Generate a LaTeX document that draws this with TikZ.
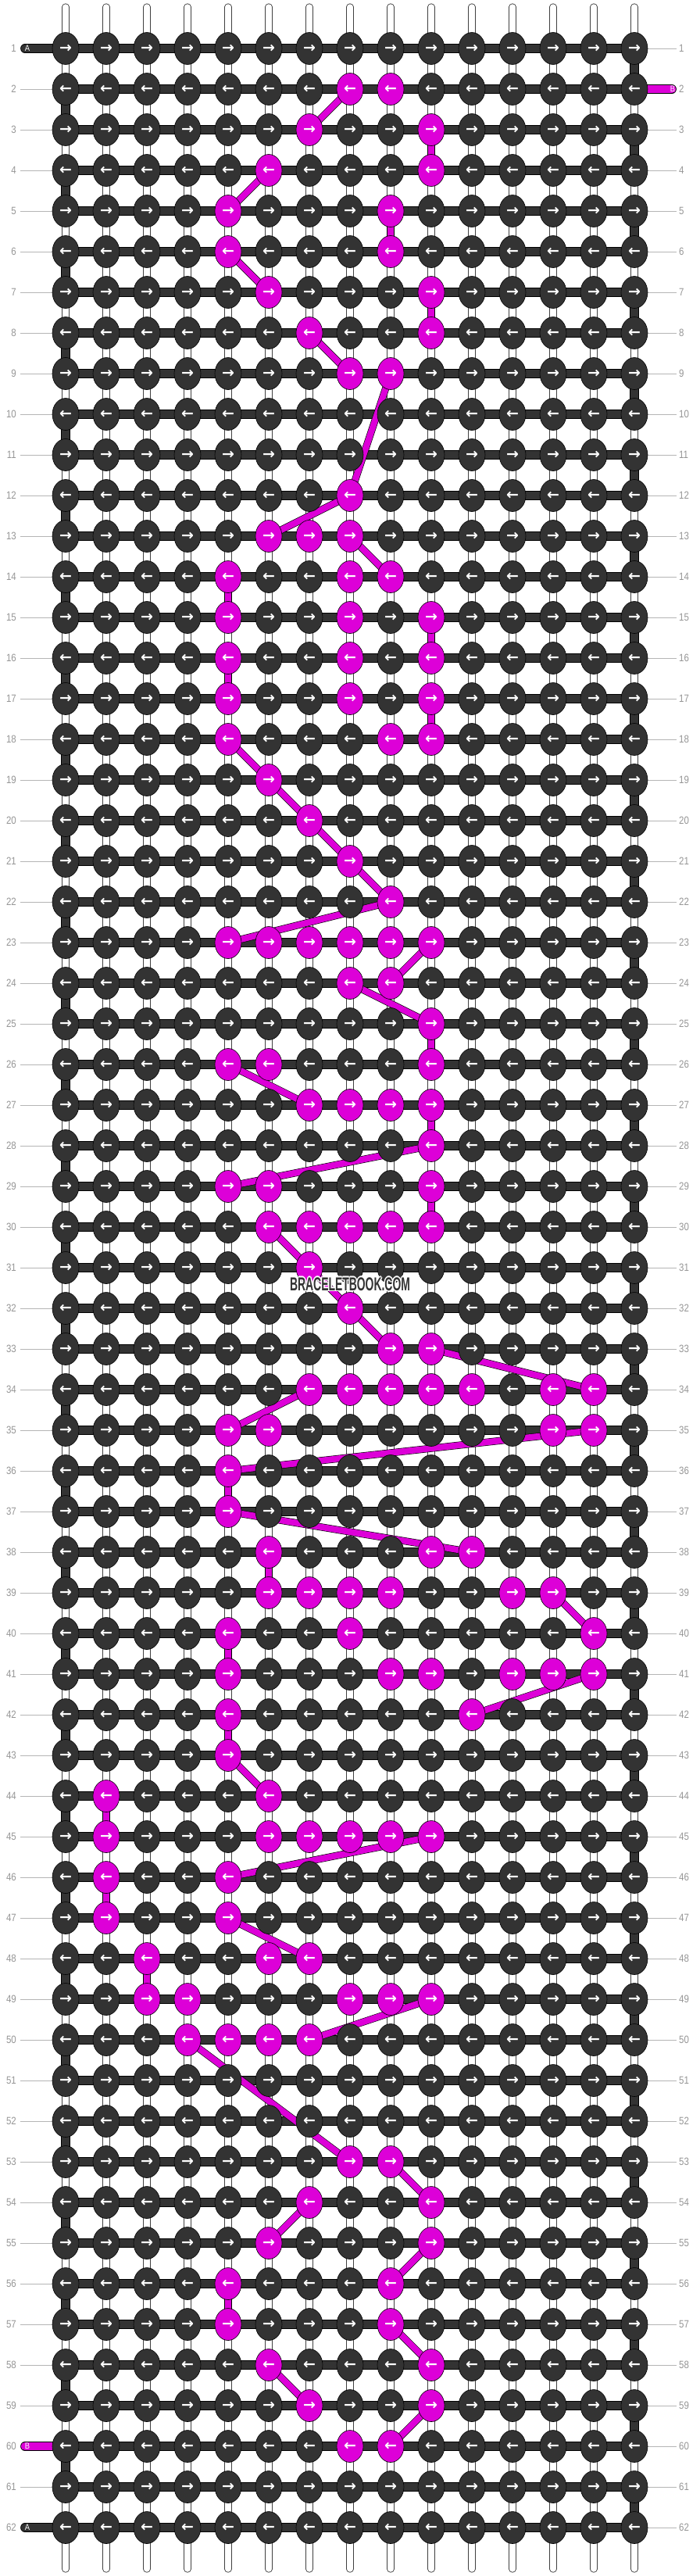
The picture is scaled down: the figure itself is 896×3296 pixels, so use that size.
\documentclass[tikz,border=0pt]{standalone}
\usepackage{fontspec}
\setmainfont{Liberation Sans}
\newfontfamily\numfont[FakeStretch=0.85]{Liberation Sans}
\newfontfamily\markfont[FakeStretch=0.58]{Liberation Sans}
\newfontfamily\arrowfont{DejaVu Sans}
\usetikzlibrary{shapes.geometric}
\definecolor{knotgray}{RGB}{51,51,51}
\definecolor{threadB}{RGB}{221,0,216}
\definecolor{labelgray}{RGB}{150,150,150}
\tikzstyle{tube}=[draw=black!75, line width=0.9pt, double=white, double distance=7.5pt, line cap=round]
\tikzstyle{bar}=[draw=black, line width=0.6pt, double=knotgray, double distance=10.5pt]
\tikzstyle{tab}=[bar, line cap=round]
\tikzstyle{thread}=[draw=black, line width=0.6pt, double=threadB, double distance=8pt]
\tikzstyle{knot}=[ellipse, draw=black, line width=0.6pt, minimum width=34pt, minimum height=41pt, inner sep=0pt, text=white, font=\arrowfont\bfseries\fontsize{19}{19}\selectfont]
\tikzstyle{rownum}=[text=labelgray, font=\numfont\fontsize{13.5}{13.5}\selectfont, inner sep=0pt]
\tikzstyle{tick}=[draw=labelgray!70, line width=1pt]
\tikzstyle{tablabel}=[text=white, font=\numfont\fontsize{11}{11}\selectfont, inner sep=0pt]
\tikzstyle{wmark}=[text=knotgray, font=\markfont\bfseries\fontsize{24}{24}\selectfont, inner sep=0pt]

\begin{document}
\begin{tikzpicture}[x=1pt,y=-1pt]
\fill[white] (0,0) rectangle (896,3296);
\useasboundingbox (0,0) rectangle (896,3296);

\foreach \r in {1,...,62}
  \foreach \c in {1,...,15}
    \coordinate (p-\r-\c) at ({32+52*\c},{10+52*\r});

\foreach \r/\cs in {2/{8,9},3/{7,10},4/{6,10},5/{5,9},6/{5,9},7/{6,10},8/{7,10},9/{8,9},
    12/{8},13/{6,7,8},14/{5,8,9},15/{5,8,10},16/{5,8,10},17/{5,8,10},18/{5,9,10},
    19/{6},20/{7},21/{8},22/{9},23/{5,6,7,8,9,10},24/{8,9},25/{10},26/{5,6,10},
    27/{7,8,9,10},28/{10},29/{5,6,10},30/{6,7,8,9,10},31/{7},32/{8},33/{9,10},
    34/{7,8,9,10,11,13,14},35/{5,6,13,14},36/{5},37/{5},38/{6,10,11},39/{6,7,8,9,12,13},
    40/{5,8,14},41/{5,9,10,12,13,14},42/{5,11},43/{5},44/{2,6},45/{2,6,7,8,9,10},
    46/{2,5},47/{2,5},48/{3,6,7},49/{3,4,8,9,10},50/{4,5,6,7},53/{8,9},54/{7,10},
    55/{6,10},56/{5,9},57/{5,9},58/{6,10},59/{7,10},60/{8,9}}
  \foreach \c in \cs
    \expandafter\gdef\csname pk-\r-\c\endcsname{};

\foreach \c in {1,...,15} {
  \coordinate (top-\c) at ({32+52*\c},9);
  \coordinate (bot-\c) at ({32+52*\c},3287);
  \path[tube] (top-\c) -- (bot-\c);
}

\foreach \r in {1,...,62} {
  \node[rownum, anchor=east] (ln-\r) at (21,{10+52*\r}) {\r};
  \node[rownum, anchor=west] (rn-\r) at (869,{10+52*\r}) {\r};
}
\foreach \r in {2,...,59,61}
  \path[tick] ([xshift=5pt]ln-\r.east) -- (p-\r-1);
\foreach \r in {1,3,4,...,62}
  \path[tick] (p-\r-15) -- ([xshift=-3pt]rn-\r.west);

\foreach \r in {1,...,62}
  \path[bar] (p-\r-1) -- (p-\r-15);
\foreach \r [evaluate=\r as \n using int(\r+1)] in {2,4,...,60}
  \path[bar] (p-\r-1) -- (p-\n-1);
\foreach \r [evaluate=\r as \n using int(\r+1)] in {1,3,...,61}
  \path[bar] (p-\r-15) -- (p-\n-15);

\coordinate (a-in) at (32,62);
\coordinate (a-out) at (32,3234);
\coordinate (b-in) at (860,114);
\coordinate (b-out) at (32,3130);
\path[tab] (a-in) -- (p-1-1);
\path[tab] (a-out) -- (p-62-1);
\path[tab, double=threadB] (p-2-15) -- (b-in);
\path[tab, double=threadB] (b-out) -- (p-60-1);
\node[tablabel] (a-in-lbl) at (35,62) {A};
\node[tablabel] (a-out-lbl) at (35,3234) {A};
\node[tablabel] (b-in-lbl) at (861,114) {B};
\node[tablabel] (b-out-lbl) at (35,3130) {B};

\foreach \a/\b in {2-8/3-7,3-10/4-10,4-6/5-5,5-9/6-9,6-5/7-6,7-10/8-10,8-7/9-8,9-9/12-8,
    12-8/13-6,13-8/14-9,14-5/15-5,15-10/16-10,16-5/17-5,17-10/18-10,18-5/19-6,19-6/20-7,
    20-7/21-8,21-8/22-9,22-9/23-5,23-10/24-9,24-8/25-10,25-10/26-10,26-5/27-7,27-10/28-10,
    28-10/29-5,29-10/30-10,30-6/31-7,31-7/32-8,32-8/33-9,33-10/34-14,34-7/35-5,35-14/36-5,
    36-5/37-5,37-5/38-11,38-6/39-6,39-13/40-14,40-5/41-5,41-14/42-11,42-5/43-5,43-5/44-6,
    44-2/45-2,45-10/46-5,46-2/47-2,47-5/48-7,48-3/49-3,49-10/50-7,50-4/53-8,53-9/54-10,
    54-7/55-6,55-10/56-9,56-5/57-5,57-9/58-10,58-6/59-7,59-10/60-9}
  \path[thread] (p-\a) -- (p-\b);

\foreach \r in {1,...,62}
  \foreach \c in {1,...,15} {
    \ifcsname pk-\r-\c\endcsname \def\kfill{threadB}\else \def\kfill{knotgray}\fi
    \ifodd\r \def\kdir{→}\else \def\kdir{←}\fi
    \node[knot, fill=\kfill] (k-\r-\c) at (p-\r-\c) {\kdir};
  }

\foreach \dx/\dy [count=\i] in {-1.5/0,1.5/0,0/-1.5,0/1.5,-1.1/-1.1,1.1/-1.1,-1.1/1.1,1.1/1.1}
  \node[wmark, text=white] (halo-\i) at ({448+\dx},{1643+\dy}) {BRACELETBOOK.COM};
\node[wmark] (watermark) at (448,1643) {BRACELETBOOK.COM};
\end{tikzpicture}
\end{document}
